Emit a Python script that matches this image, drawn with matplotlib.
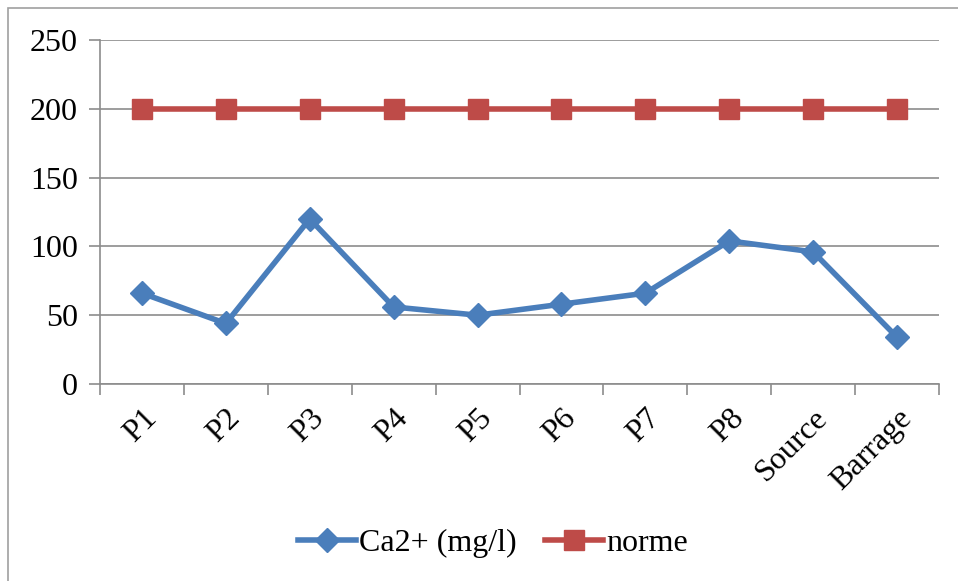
import matplotlib.pyplot as plt
from matplotlib.patches import Rectangle

# Données
sites = ["P1", "P2", "P3", "P4", "P5", "P6", "P7", "P8", "Source", "Barrage"]
calcium = [66, 44, 120, 56, 50, 58, 66, 104, 96, 34]
norme = [200, 200, 200, 200, 200, 200, 200, 200, 200, 200]

plt.rcParams['font.family'] = ['Liberation Serif', 'DejaVu Serif']

fig = plt.figure(figsize=(9.58, 5.81), dpi=100)
ax = fig.add_axes([100/958, 1 - 384/581, 839/958, 344/581])

# cadre du graphique
fig.patches.append(Rectangle((8/958, -0.01), 0.995, 1 - 8/581 + 0.01,
                             transform=fig.transFigure, fill=False,
                             edgecolor='#a0a0a0', linewidth=1.2))

x = list(range(len(sites)))
ax.plot(x, calcium, color='#4a7ebb', linewidth=4, marker='D', markersize=12,
        label='Ca2+ (mg/l)')
ax.plot(x, norme, color='#be4b48', linewidth=4, marker='s', markersize=14,
        label='norme')

ax.set_xlim(-0.5, len(sites) - 0.5)
ax.set_ylim(0, 250)
ax.set_yticks([0, 50, 100, 150, 200, 250])
ax.yaxis.grid(True, color='#8c8c8c', linewidth=1.2)
ax.set_axisbelow(True)

for s in ['top', 'right']:
    ax.spines[s].set_visible(False)
for s in ['left', 'bottom']:
    ax.spines[s].set_color('#8c8c8c')
    ax.spines[s].set_linewidth(1.2)

ax.set_xticks([i - 0.5 for i in range(len(sites) + 1)], minor=False)
ax.set_xticklabels([])
ax.set_xticks(x, minor=True)
ax.set_xticklabels(sites, minor=True, rotation=45, ha='right',
                   rotation_mode='anchor', fontsize=23)
ax.tick_params(axis='x', which='major', length=8, color='#8c8c8c', width=1.2)
ax.tick_params(axis='x', which='minor', length=0, pad=14)
ax.tick_params(axis='y', length=8, color='#8c8c8c', width=1.2, labelsize=23, pad=8)

fig.legend(loc='center', bbox_to_anchor=(493/958, 1 - 543/581), ncol=2,
           frameon=False, fontsize=23, handlelength=1.8, handletextpad=0.1,
           columnspacing=0.9)

fig.savefig('out.png', dpi=100)
